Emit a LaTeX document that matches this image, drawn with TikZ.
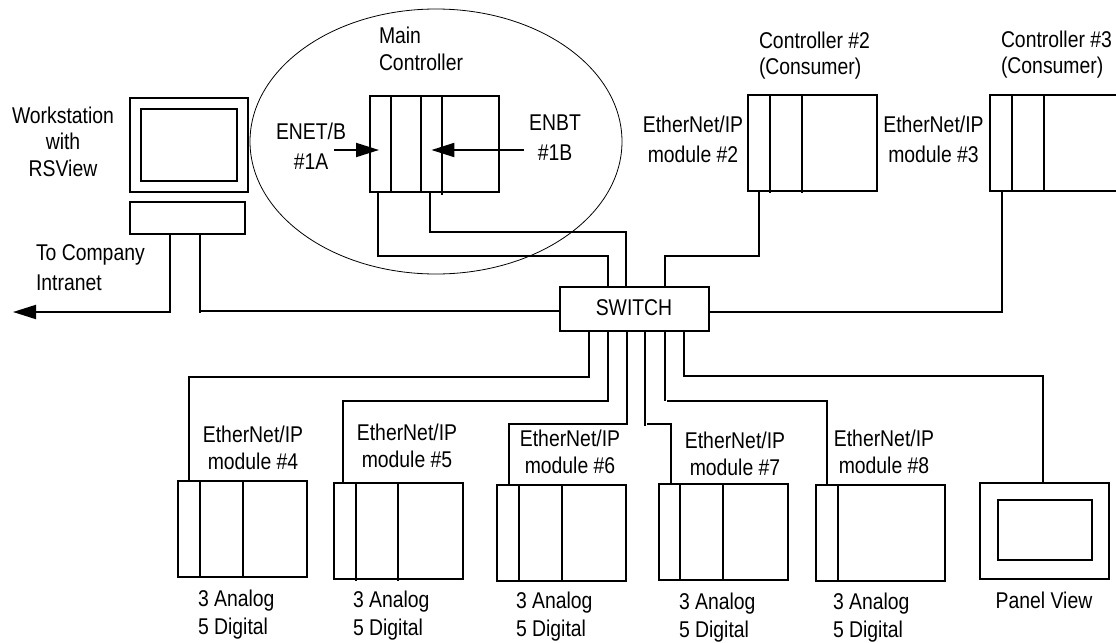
\documentclass[tikz,border=0pt]{standalone}
\usepackage{fontspec}
\setmainfont{Liberation Sans}[FakeStretch=0.85]
\usetikzlibrary{shapes.geometric, arrows.meta, calc}
\tikzset{
  rack/.style={rectangle, draw=black, line width=1pt, anchor=north west, inner sep=0pt, outer sep=0pt, minimum width=64.5pt, minimum height=48pt},
  screen/.style={rack, minimum width=47pt, minimum height=30pt},
  wire/.style={line width=1pt},
  arrow/.style={line width=1pt, -{Triangle[length=11.5pt, width=7pt]}},
  label/.style={inner sep=0pt, outer sep=0pt, align=center, font=\fontsize{11.4}{13.3}\selectfont},
  leftlabel/.style={label, align=left, anchor=west}
}
\begin{document}
\begin{tikzpicture}[x=0.5pt, y=-0.5pt]
\useasboundingbox (0,0) rectangle (1116,643);

% Workstation
\node[rack, minimum width=59pt, minimum height=47pt] at (129.6,98) (monitor) {};
\node[screen, minimum width=48pt, minimum height=36pt] at (141,109) (display) {};
\node[rack, minimum width=57.7pt, minimum height=16pt] at (129.6,202) (keyboard) {};
\node[label] at (63,141.5) (wslabel) {Workstation\\with\\RSView};
\node[leftlabel] at (36,268) (intranetlabel) {To Company\\[1.7pt]Intranet};
\coordinate (intranet) at (13,312);

% Main controller
\node[draw=black, line width=0.4pt, ellipse, inner sep=0pt, outer sep=0pt, minimum width=186pt, minimum height=132.5pt] at (436,141.5) (group) {};
\node[rack] at (369.6,96) (main) {};
\draw[wire] ($(main.north west)+(21.8,0)$) -- ($(main.south west)+(21.8,0)$);
\draw[wire] ($(main.north west)+(51.8,0)$) -- ($(main.south west)+(51.8,0)$);
\draw[wire] ($(main.north west)+(72.4,0)$) -- ($(main.south west)+(72.4,2.5)$);
\node[leftlabel] at (379,49) (mainlabel) {Main\\Controller};
\node[label] at (311,146) (enetlabel) {ENET/B\\[1.7pt]\#1A};
\node[label] at (555,138) (enbtlabel) {ENBT\\[1.7pt]\#1B};
\coordinate (enetstart) at (334,150);
\coordinate (enbtstart) at (524,150);
\draw[arrow] (enetstart) -- ($(main.north west)+(9.4,54)$);
\draw[arrow] (enbtstart) -- ($(main.north west)+(61.8,54)$);

% Consumers
\node[rack] at (748,95) (ctrltwo) {};
\draw[wire] ($(ctrltwo.north west)+(22,0)$) -- ($(ctrltwo.south west)+(22,1.5)$);
\draw[wire] ($(ctrltwo.north west)+(54,0)$) -- ($(ctrltwo.south west)+(54,1.5)$);
\node[leftlabel] at (759,55.5) (ctrltwolabel) {Controller \#2\\(Consumer)};
\node[label] at (693,139) (modtwolabel) {EtherNet/IP\\[1.7pt]module \#2};
\node[rack, minimum width=70pt] at (990,95) (ctrlthree) {};
\draw[wire] ($(ctrlthree.north west)+(21.7,0)$) -- ($(ctrlthree.south west)+(21.7,0)$);
\draw[wire] ($(ctrlthree.north west)+(54,0)$) -- ($(ctrlthree.south west)+(54,0)$);
\node[leftlabel] at (1001,54.5) (ctrlthreelabel) {Controller \#3\\(Consumer)};
\node[label] at (933.5,139) (modthreelabel) {EtherNet/IP\\[1.7pt]module \#3};

% Switch
\node[rack, minimum width=74.5pt, minimum height=22pt] at (560,287) (switch) {};
\node[label] at (634,307.5) (switchlabel) {SWITCH};

% I/O modules
\node[rack, minimum height=48pt] at (177.7,481) (modfour) {};
\draw[wire] ($(modfour.north west)+(22.3,0)$) -- ($(modfour.south west)+(22.3,0)$);
\draw[wire] ($(modfour.north west)+(65,0)$) -- ($(modfour.south west)+(65,0)$);
\node[label] at (253,448) (modfourlabel) {EtherNet/IP\\module \#4};
\node[leftlabel] at (198,615) (iofour) {3 Analog\\[0.7pt]5 Digital};

\node[rack] at (334,483) (modfive) {};
\draw[wire] ($(modfive.north west)+(22,0)$) -- ($(modfive.south west)+(22,1.5)$);
\draw[wire] ($(modfive.north west)+(64,0)$) -- ($(modfive.south west)+(64,1.5)$);
\node[label] at (407,446) (modfivelabel) {EtherNet/IP\\module \#5};
\node[leftlabel] at (353,616) (iofive) {3 Analog\\[0.7pt]5 Digital};

\node[rack] at (497,485) (modsix) {};
\draw[wire] ($(modsix.north west)+(22,0)$) -- ($(modsix.south west)+(22,0)$);
\draw[wire] ($(modsix.north west)+(65,0)$) -- ($(modsix.south west)+(65,0)$);
\node[label] at (570,452) (modsixlabel) {EtherNet/IP\\module \#6};
\node[leftlabel] at (516,617) (iosix) {3 Analog\\[0.7pt]5 Digital};

\node[rack] at (658.7,484) (modseven) {};
\draw[wire] ($(modseven.north west)+(21.3,0)$) -- ($(modseven.south west)+(21.3,0)$);
\draw[wire] ($(modseven.north west)+(64.3,0)$) -- ($(modseven.south west)+(64.3,0)$);
\node[label] at (735,454) (modsevenlabel) {EtherNet/IP\\module \#7};
\node[leftlabel] at (679,618) (ioseven) {3 Analog\\[0.7pt]5 Digital};

\node[rack] at (815.7,485) (modeight) {};
\draw[wire] ($(modeight.north west)+(22.3,0)$) -- ($(modeight.south west)+(22.3,0)$);
\node[label] at (884,452) (modeightlabel) {EtherNet/IP\\module \#8};
\node[leftlabel] at (833,618) (ioeight) {3 Analog\\[0.7pt]5 Digital};

% Panel view
\node[rack, minimum width=64.5pt] at (980,483) (panel) {};
\node[screen] at (997.7,500) (panelscreen) {};
\node[label] at (1044,600.5) (panellabel) {Panel View};

% Connectors above the switch
\draw[arrow] ($(keyboard.south west)+(40.4,0)$) |- (intranet);
\draw[wire] ($(keyboard.south west)+(70.4,0)$) -- ++(0,79);
\draw[wire] ($(keyboard.south west)+(70.4,77)$) -- ($(switch.west)+(0,2)$);
\draw[wire] ($(main.south west)+(8.4,0)$) -- ++(0,64) -| ($(switch.north west)+(48,0)$);
\draw[wire] ($(main.south west)+(60.4,0)$) -- ++(0,40) -| ($(switch.north west)+(66,0)$);
\draw[wire] ($(ctrltwo.south west)+(11,0)$) -- ++(0,65) -| ($(switch.north west)+(105,0)$);
\draw[wire] ($(ctrlthree.south west)+(11.8,0)$) |- ($(switch.east)+(0,3)$);

% Connectors below the switch
\draw[wire] ($(switch.south west)+(29,0)$) -- ++(0,45.7) -| ($(modfour.north west)+(11.3,0)$);
\draw[wire] ($(switch.south west)+(48,0)$) -- ++(0,69.7) -| ($(modfive.north west)+(9,0)$);
\draw[wire] ($(switch.south west)+(66.7,0)$) -- ++(0,92.7) -| ($(modsix.north west)+(11.7,0)$);
\draw[wire] ($(switch.south west)+(85,0)$) -- ++(0,95);
\draw[wire] ($(switch.south west)+(87,93)$) -| ($(modseven.north west)+(12,0)$);
\draw[wire] ($(switch.south west)+(105,0)$) -- ++(0,70);
\draw[wire] ($(switch.south west)+(107,69.7)$) -| ($(modeight.north west)+(11.3,0)$);
\draw[wire] ($(switch.south west)+(124,0)$) -- ++(0,44.7) -| ($(panel.north west)+(63,0)$);
\end{tikzpicture}
\end{document}
